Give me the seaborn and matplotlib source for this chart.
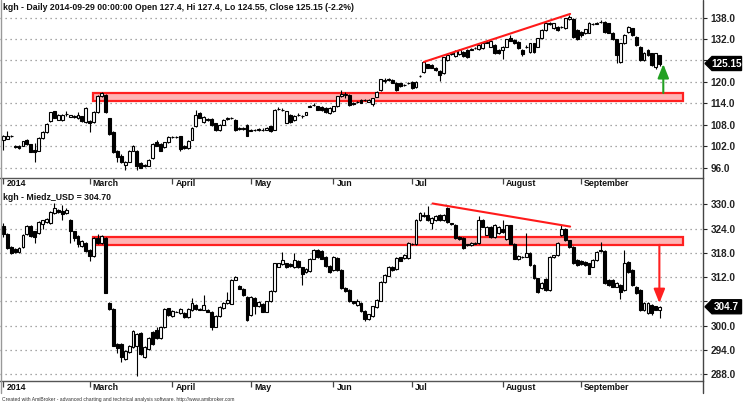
import numpy as np
import pandas as pd
import matplotlib
matplotlib.use("Agg")
import matplotlib.pyplot as plt
import matplotlib.transforms as mtrans
from matplotlib.patches import Rectangle, Polygon
from matplotlib.lines import Line2D
import seaborn as sns

sns.set_theme(style="white")
plt.rcParams["font.family"] = ["Liberation Sans", "DejaVu Sans"]

# ---------------- data ----------------
HOLIDAYS = ["2014-04-18", "2014-04-21", "2014-05-01", "2014-06-19", "2014-08-15"]
dates = pd.bdate_range("2014-01-30", "2014-09-29")
dates = dates[~dates.isin(pd.to_datetime(HOLIDAYS))]

MONTH_LABELS = {3: "March", 4: "April", 5: "May", 6: "Jun", 7: "Jul", 8: "August", 9: "September"}
YEAR_LABEL = "2014"

kgh_open = [103.8, 104.2, 104.8, 102.2, 102.0, 102.2, 103.8, 102.7, 101.0, 100.8,
            104.4, 106.1, 109.2, 111.8, 109.5, 109.4, 111.0, 110.3, 110.3, 109.8,
            110.4, 108.7, 109.2, 108.7, 111.5, 116.1, 116.4, 109.8, 106.1, 100.8,
            99.4, 96.8, 97.7, 100.8, 100.8, 97.3, 96.8, 96.6, 98.7, 103.1,
            102.7, 101.7, 103.1, 104.5, 104.6, 104.9, 102.0, 101.6, 103.9, 107.6,
            111.3, 108.8, 109.6, 109.7, 108.4, 106.5, 108.1, 109.6, 109.9, 109.5,
            106.9, 106.9, 108.1, 106.4, 106.6, 106.5, 106.6, 106.7, 107.6, 106.7,
            112.4, 112.2, 108.6, 110.9, 109.4, 110.8, 110.4, 110.9, 113.1, 113.6,
            113.2, 113.0, 112.7, 111.3, 111.8, 113.2, 116.0, 116.4, 116.4, 114.2,
            114.3, 115.0, 114.9, 114.5, 113.8, 115.9, 117.7, 120.4, 120.6, 120.5,
            119.8, 119.6, 119.1, 119.7, 120.1, 118.5, 121.6, 122.8, 124.9, 124.7,
            124.0, 123.1, 122.4, 126.1, 127.9, 127.2, 127.8, 128.5, 128.9, 129.0,
            129.5, 129.1, 129.4, 131.0, 129.9, 130.3, 128.9, 128.9, 129.9, 132.2,
            131.7, 131.1, 128.9, 129.8, 128.4, 130.8, 129.9, 132.2, 134.5, 136.3,
            135.0, 135.4, 135.3, 135.0, 137.5, 137.7, 134.5, 134.0, 133.6, 133.8,
            136.1, 136.3, 136.7, 136.8, 136.4, 133.8, 131.9, 125.6, 130.8, 134.0,
            135.0, 132.5, 129.8, 126.1, 128.9, 128.0, 124.3, 127.4]
kgh_high = [105.2, 106.2, 105.2, 102.5, 102.3, 103.6, 104.0, 102.8, 103.0, 104.6,
            106.3, 108.6, 111.7, 112.0, 111.0, 111.0, 111.8, 110.9, 110.8, 111.5,
            110.6, 113.0, 109.5, 111.8, 116.3, 117.3, 116.6, 110.0, 106.3, 101.0,
            99.8, 98.0, 101.0, 102.5, 101.0, 97.5, 97.0, 98.5, 102.9, 103.7,
            102.9, 103.3, 104.8, 104.9, 104.9, 105.0, 102.3, 103.7, 107.4, 112.3,
            111.5, 110.4, 109.8, 109.9, 108.6, 108.2, 109.7, 110.3, 110.3, 109.7,
            107.4, 107.3, 108.3, 106.8, 106.9, 107.1, 107.0, 107.4, 107.8, 112.5,
            113.0, 112.6, 112.0, 111.1, 110.7, 111.4, 110.8, 111.7, 113.7, 114.1,
            113.4, 113.2, 112.9, 112.9, 113.4, 116.2, 117.8, 117.2, 116.6, 114.4,
            114.8, 115.2, 115.3, 115.1, 115.6, 117.4, 120.9, 121.2, 121.0, 120.7,
            120.0, 119.8, 119.5, 120.1, 120.3, 120.3, 121.9, 125.8, 125.1, 124.9,
            124.2, 123.3, 127.1, 127.7, 128.4, 128.9, 129.1, 128.7, 129.1, 129.4,
            129.9, 130.5, 131.2, 131.4, 131.7, 130.5, 129.1, 130.1, 132.1, 133.1,
            131.9, 131.3, 129.1, 130.2, 131.0, 131.0, 132.4, 134.7, 136.8, 136.8,
            136.6, 135.6, 135.7, 138.0, 138.8, 137.9, 134.7, 134.2, 134.9, 136.8,
            136.5, 136.7, 137.3, 137.0, 136.6, 134.0, 132.1, 131.0, 133.3, 135.6,
            135.2, 132.7, 130.0, 128.3, 129.1, 128.2, 128.2, 127.4]
kgh_low = [101.0, 104.0, 104.5, 101.6, 101.2, 102.0, 102.4, 100.3, 97.7, 100.6,
           104.2, 105.8, 108.9, 109.8, 109.3, 109.2, 110.6, 110.1, 110.0, 109.6,
           108.7, 108.4, 106.1, 108.4, 111.2, 115.9, 111.2, 105.2, 100.2, 97.5,
           97.3, 95.5, 97.5, 100.6, 95.5, 95.9, 96.2, 96.4, 98.5, 102.0,
           100.6, 101.5, 102.9, 104.3, 104.3, 100.6, 101.2, 101.4, 103.7, 107.4,
           109.8, 108.6, 109.2, 107.7, 106.4, 106.3, 107.9, 109.4, 109.7, 106.3,
           106.7, 106.7, 104.8, 106.2, 106.4, 106.3, 106.4, 106.5, 106.0, 106.5,
           112.1, 112.0, 108.4, 108.5, 109.2, 110.6, 110.0, 110.7, 112.9, 113.4,
           112.1, 111.9, 111.3, 111.1, 111.6, 113.0, 115.8, 115.6, 113.4, 113.5,
           114.0, 114.0, 114.7, 114.3, 113.4, 115.7, 117.5, 119.8, 120.3, 119.6,
           117.5, 118.7, 118.9, 119.5, 118.0, 118.3, 121.5, 122.6, 123.8, 123.8,
           123.0, 120.4, 122.2, 125.9, 127.6, 127.0, 127.6, 127.1, 126.7, 128.8,
           129.3, 128.9, 129.2, 130.8, 129.7, 127.8, 127.8, 126.3, 129.7, 131.3,
           130.6, 129.2, 127.3, 129.6, 128.2, 128.2, 129.7, 132.0, 134.3, 136.0,
           134.8, 134.3, 135.1, 134.8, 137.3, 132.2, 131.7, 132.5, 133.4, 133.6,
           135.9, 136.1, 136.5, 133.8, 133.6, 131.7, 125.4, 125.4, 130.6, 133.8,
           132.8, 130.1, 125.9, 125.9, 127.3, 124.5, 123.6, 124.55]
kgh_close = [104.8, 104.8, 104.9, 101.9, 101.5, 103.4, 102.6, 100.5, 100.3, 104.4,
             106.1, 108.2, 111.5, 110.0, 110.8, 110.8, 111.1, 110.7, 110.4, 110.9,
             109.0, 112.6, 108.5, 111.5, 116.1, 116.8, 111.5, 105.4, 100.5, 98.9,
             97.5, 97.7, 100.8, 102.2, 96.4, 96.1, 96.4, 98.3, 102.7, 102.2,
             100.8, 103.1, 104.6, 104.7, 104.7, 101.2, 101.5, 103.5, 107.2, 110.9,
             110.0, 110.2, 109.4, 107.9, 106.7, 108.0, 109.5, 109.8, 110.0, 106.5,
             107.0, 107.0, 105.0, 106.5, 106.7, 106.9, 106.7, 107.2, 106.2, 112.3,
             112.5, 112.3, 111.8, 108.7, 110.5, 110.9, 110.5, 111.5, 113.2, 113.7,
             112.3, 112.1, 111.5, 112.7, 113.2, 116.0, 116.7, 116.5, 113.6, 113.8,
             114.4, 114.2, 115.0, 114.9, 115.4, 117.2, 120.7, 120.5, 120.7, 119.8,
             117.7, 118.9, 119.2, 119.8, 118.2, 120.1, 121.7, 125.6, 124.0, 124.0,
             123.2, 121.9, 126.9, 127.5, 128.0, 128.7, 128.9, 127.3, 126.9, 129.1,
             129.6, 130.3, 130.8, 131.1, 131.5, 128.0, 128.0, 129.9, 131.9, 131.5,
             130.8, 129.4, 127.8, 129.9, 130.8, 128.4, 132.2, 134.5, 136.6, 136.4,
             136.4, 134.5, 135.4, 137.8, 138.2, 132.5, 131.9, 133.0, 134.7, 136.6,
             136.2, 136.4, 136.8, 134.0, 133.8, 131.9, 127.5, 130.8, 133.1, 135.4,
             133.0, 130.3, 126.1, 128.1, 127.5, 124.7, 128.0, 125.15]

cu_open = [324.6, 322.7, 319.4, 318.9, 318.2, 319.4, 322.7, 324.6, 323.3, 322.9,
           325.2, 325.6, 325.4, 327.9, 328.7, 328.4, 327.9, 326.2, 323.3, 322.1,
           319.6, 320.4, 318.8, 317.2, 321.7, 320.4, 321.7, 305.7, 304.1, 295.5,
           295.5, 291.8, 293.5, 294.7, 295.1, 298.3, 292.2, 294.2, 298.4, 299.0,
           297.0, 299.6, 304.3, 302.4, 303.4, 303.1, 303.1, 302.1, 303.9, 305.1,
           304.0, 304.0, 304.0, 303.5, 299.8, 302.4, 304.4, 305.6, 305.5, 311.4,
           309.8, 309.2, 307.2, 302.7, 306.8, 304.9, 305.4, 303.5, 306.0, 308.6,
           314.6, 315.3, 315.4, 315.2, 314.4, 316.0, 314.4, 313.3, 313.6, 316.6,
           318.8, 318.5, 317.0, 314.7, 313.7, 316.7, 313.8, 309.3, 308.8, 306.0,
           305.2, 305.7, 303.6, 301.6, 302.4, 304.6, 306.2, 310.7, 312.4, 314.6,
           314.0, 316.9, 316.7, 316.7, 320.3, 320.1, 326.1, 327.4, 327.4, 325.5,
           326.0, 327.4, 326.0, 329.0, 325.3, 324.9, 321.9, 321.8, 319.9, 320.0,
           320.3, 320.4, 326.1, 322.5, 324.5, 322.0, 322.8, 324.0, 321.5, 324.8,
           320.3, 316.4, 317.0, 317.1, 318.0, 315.0, 311.7, 309.4, 311.5, 308.8,
           317.0, 317.4, 322.4, 324.0, 321.1, 319.5, 316.2, 316.0, 315.8, 315.4,
           314.6, 316.2, 318.6, 318.5, 311.3, 311.3, 309.7, 310.1, 308.8, 315.8,
           313.8, 309.7, 308.8, 303.9, 303.1, 305.2, 304.8, 304.0]
cu_high = [325.4, 322.9, 319.6, 319.1, 319.4, 322.7, 324.8, 324.8, 323.5, 325.8,
           326.2, 326.6, 328.3, 330.3, 328.9, 329.8, 329.2, 326.4, 323.5, 322.3,
           321.1, 320.6, 319.0, 321.9, 322.7, 322.3, 321.9, 305.9, 304.3, 295.7,
           295.7, 294.1, 295.3, 299.0, 298.1, 298.5, 294.9, 297.3, 298.6, 299.6,
           299.8, 304.3, 304.5, 303.9, 303.7, 304.3, 303.3, 304.3, 306.8, 305.3,
           304.3, 307.5, 304.2, 303.7, 302.6, 304.9, 305.8, 308.4, 311.6, 312.3,
           310.0, 309.4, 307.4, 307.4, 307.0, 306.1, 305.6, 306.2, 308.8, 315.6,
           315.6, 318.2, 315.6, 315.4, 318.0, 316.2, 314.6, 314.2, 316.8, 318.9,
           319.0, 318.7, 317.2, 314.9, 317.2, 316.9, 314.0, 309.5, 309.0, 306.2,
           306.6, 305.9, 303.8, 303.0, 305.0, 306.5, 311.1, 312.8, 314.8, 314.8,
           316.9, 317.1, 317.7, 320.6, 320.5, 326.3, 328.0, 328.0, 329.7, 326.8,
           327.4, 327.6, 327.6, 329.4, 325.5, 325.1, 322.1, 322.0, 320.3, 320.6,
           320.7, 327.2, 326.3, 324.7, 324.7, 325.1, 324.6, 326.0, 325.0, 325.0,
           320.5, 317.4, 317.3, 323.0, 318.2, 315.2, 311.9, 310.8, 311.7, 317.2,
           317.6, 320.7, 324.8, 324.2, 321.3, 319.7, 316.4, 316.2, 316.0, 315.6,
           316.4, 318.5, 320.6, 318.7, 311.5, 311.5, 310.7, 310.3, 318.8, 316.0,
           314.0, 309.9, 309.0, 305.8, 305.8, 305.4, 305.0, 304.9]
cu_low = [321.9, 319.0, 317.8, 318.0, 317.9, 319.2, 322.5, 321.9, 320.5, 322.7,
          323.9, 325.4, 325.2, 327.7, 327.9, 326.0, 327.7, 320.4, 320.9, 319.5,
          319.4, 318.2, 316.0, 317.0, 320.2, 320.2, 308.0, 303.9, 294.9, 293.4,
          291.0, 291.6, 293.3, 294.5, 287.7, 292.8, 292.0, 294.0, 295.3, 296.8,
          296.8, 299.4, 302.5, 302.2, 303.3, 302.9, 301.9, 301.9, 303.7, 303.9,
          303.9, 303.8, 303.3, 299.0, 299.6, 302.2, 304.2, 305.4, 305.3, 311.2,
          309.0, 307.4, 301.2, 302.5, 303.0, 304.7, 303.3, 303.3, 305.8, 308.4,
          314.4, 315.1, 314.2, 314.6, 314.2, 314.2, 310.0, 313.1, 313.4, 316.4,
          316.7, 316.4, 314.5, 313.1, 313.5, 313.6, 309.1, 308.3, 305.8, 305.4,
          305.0, 303.4, 301.2, 301.4, 302.2, 304.4, 306.0, 310.5, 312.2, 313.6,
          313.8, 315.9, 316.5, 316.5, 319.9, 319.9, 325.9, 326.8, 325.8, 324.0,
          325.8, 325.8, 325.8, 325.5, 324.9, 321.4, 321.2, 318.9, 319.7, 319.8,
          320.1, 320.2, 324.3, 322.3, 321.8, 321.8, 322.6, 323.0, 321.3, 320.1,
          316.4, 316.2, 316.8, 316.9, 314.8, 311.5, 308.2, 309.2, 308.6, 308.6,
          316.8, 317.2, 322.2, 320.9, 319.3, 315.2, 314.8, 315.0, 314.8, 312.7,
          314.4, 316.0, 318.2, 310.3, 309.9, 309.5, 309.5, 306.6, 308.6, 313.1,
          309.9, 307.8, 303.7, 303.7, 302.9, 302.7, 303.8, 302.0]
cu_close = [322.7, 319.2, 318.0, 318.2, 319.2, 322.5, 324.6, 322.1, 321.9, 325.6,
            326.0, 326.4, 328.1, 329.1, 328.1, 327.6, 328.7, 323.3, 321.7, 320.1,
            320.9, 318.4, 317.2, 321.7, 320.4, 322.1, 308.2, 304.1, 295.1, 294.6,
            292.2, 293.9, 295.1, 298.8, 297.9, 293.0, 294.7, 297.1, 295.5, 297.0,
            299.6, 304.1, 302.7, 303.7, 303.5, 304.1, 302.1, 304.1, 305.7, 304.1,
            304.1, 305.1, 303.5, 299.8, 302.4, 304.7, 305.6, 306.4, 311.4, 312.1,
            309.2, 307.6, 301.4, 307.2, 304.9, 305.9, 303.5, 306.0, 308.6, 315.4,
            315.4, 316.2, 314.4, 314.8, 316.2, 314.4, 312.9, 314.0, 316.6, 318.7,
            316.9, 316.6, 314.7, 313.3, 317.0, 313.8, 309.3, 308.5, 306.0, 305.6,
            306.0, 303.6, 301.6, 302.8, 304.8, 306.3, 310.9, 312.6, 314.6, 313.8,
            316.7, 316.1, 317.5, 320.4, 320.1, 326.1, 327.8, 327.0, 326.0, 326.6,
            327.2, 326.0, 327.4, 325.7, 325.1, 321.6, 321.4, 319.1, 320.1, 320.4,
            320.5, 326.1, 324.5, 324.5, 322.0, 324.9, 324.4, 323.2, 324.8, 320.3,
            316.6, 317.2, 317.1, 318.0, 315.0, 311.7, 308.4, 310.6, 308.8, 317.0,
            317.4, 320.5, 324.0, 321.1, 319.5, 315.4, 315.0, 315.2, 315.0, 312.9,
            316.2, 318.3, 318.4, 310.5, 310.1, 309.7, 310.5, 308.4, 315.4, 313.3,
            310.1, 308.0, 303.9, 305.6, 305.6, 303.1, 304.0, 304.7]

kgh_ticks = [96.0, 102.0, 108.0, 114.0, 120.0, 126.0, 132.0, 138.0]
cu_ticks = [288.0, 294.0, 300.0, 306.0, 312.0, 318.0, 324.0, 330.0]
# tick labels hidden behind the last-price boxes in the reference
kgh_hidden_ticks = [126.0]
cu_hidden_ticks = [306.0]

KGH_TITLE = "kgh - Daily 2014-09-29 00:00:00 Open 127.4, Hi 127.4, Lo 124.55, Close 125.15 (-2.2%)"
CU_TITLE = "kgh - Miedz_USD = 304.70"
CREDIT = "Created with AmiBroker - advanced charting and technical analysis software. http://www.amibroker.com"
KGH_LAST_LABEL = "125.15"
CU_LAST_LABEL = "304.7"

# annotations drawn by the analyst (in bar-index / price units)
ZONE_X = (22.75, 173.0)
KGH_ZONE = (114.8, 116.8)
CU_ZONE = (319.95, 322.0)
KGH_TREND_X = [107.0, 144.2]
KGH_TREND_Y = [125.6, 139.0]
CU_TREND_X = [109.2, 144.2]
CU_TREND_Y = [330.2, 324.5]
KGH_ARROW = (167.9, 116.9, 125.0)
CU_ARROW = (166.9, 320.0, 305.6)

# ---------------- figure ----------------
W, H = 744, 403
fig = plt.figure(figsize=(W / 100, H / 100), dpi=100)
fig.patch.set_facecolor("white")

AX_RIGHT = 703
ax1 = fig.add_axes([0, 1 - 178 / H, AX_RIGHT / W, 178 / H])
ax2 = fig.add_axes([0, 1 - 381 / H, AX_RIGHT / W, (381 - 190) / H])

n = len(kgh_close)
xs = np.arange(n)


def draw_candles(ax, o, hi, lo, c):
    o, hi, lo, c = map(np.asarray, (o, hi, lo, c))
    up = c >= o
    ax.vlines(xs, lo, hi, color="black", lw=0.8, zorder=3)
    bottom = np.minimum(o, c)
    height = np.abs(c - o)
    ax.bar(xs[up], height[up], bottom=bottom[up], width=0.74, color="white",
           edgecolor="black", linewidth=0.8, zorder=4)
    ax.bar(xs[~up], height[~up], bottom=bottom[~up], width=0.74, color="black",
           edgecolor="black", linewidth=0.8, zorder=4)


def style_axis(ax, ticks, hidden, ylim):
    ax.set_xlim(-0.84, 178.0)
    ax.set_ylim(*ylim)
    ax.set_facecolor("white")
    ax.yaxis.tick_right()
    ax.set_yticks(ticks)
    ax.set_yticklabels(["" if t in hidden else f"{t:.1f}" for t in ticks])
    ax.tick_params(axis="y", which="both", direction="out", length=3, width=0.8,
                   pad=2.5, labelsize=7.2, colors="#222222", right=True, left=False)
    for lab in ax.get_yticklabels():
        lab.set_fontweight("bold")
    ax.yaxis.grid(True, linestyle=(0, (1, 3)), color="#8a8a8a", lw=0.9)
    ax.xaxis.grid(False)
    for s in ["top", "left", "right"]:
        ax.spines[s].set_visible(False)
    ax.spines["bottom"].set_color("#555555")
    ax.spines["bottom"].set_linewidth(1.0)
    # month ticks and labels
    month_pos = [0]
    month_lab = [YEAR_LABEL]
    for i in range(1, n):
        if dates[i].month != dates[i - 1].month and dates[i].month in MONTH_LABELS:
            month_pos.append(i)
            month_lab.append(MONTH_LABELS[dates[i].month])
    ax.set_xticks(month_pos)
    ax.set_xticklabels([])
    ax.tick_params(axis="x", direction="out", length=4.5, width=0.9, colors="#444444", bottom=True)
    trans = ax.get_xaxis_transform() + mtrans.ScaledTranslation(3 / 100, -1.5 / 100, fig.dpi_scale_trans)
    for p, lab in zip(month_pos, month_lab):
        ax.text(p, 0, lab, transform=trans, ha="left", va="top", fontsize=6.3,
                fontweight="bold", color="#111111", clip_on=False)


def price_box(ax, value, text):
    base = mtrans.blended_transform_factory(ax.transAxes, ax.transData)
    tr = fig.dpi_scale_trans + mtrans.ScaledTranslation(1.0, value, base)
    pts = [(0.02, 0.0), (0.09, 0.07), (0.385, 0.07), (0.385, -0.07), (0.09, -0.07)]
    ax.add_patch(Polygon(pts, closed=True, transform=tr, facecolor="black",
                         edgecolor="black", clip_on=False, zorder=20))
    ax.text(0.235, 0.0, text, transform=tr, ha="center", va="center", color="white",
            fontsize=7.2, fontweight="bold", zorder=21, clip_on=False)


def zone(ax, yr):
    ax.add_patch(Rectangle((ZONE_X[0], yr[0]), ZONE_X[1] - ZONE_X[0], yr[1] - yr[0],
                           facecolor="#ffb4b4", edgecolor="#ff2020", lw=1.6, zorder=2))


# top panel
style_axis(ax1, kgh_ticks, kgh_hidden_ticks, (93.17, 142.89))
zone(ax1, KGH_ZONE)
draw_candles(ax1, kgh_open, kgh_high, kgh_low, kgh_close)
sns.lineplot(x=KGH_TREND_X, y=KGH_TREND_Y, ax=ax1, color="#ff1a1a", lw=1.5, zorder=6)
ax1.annotate("", xy=(KGH_ARROW[0], KGH_ARROW[2]), xytext=(KGH_ARROW[0], KGH_ARROW[1]),
             arrowprops=dict(arrowstyle="-|>,head_length=0.7,head_width=0.28", color="#22a022",
                             lw=1.5, shrinkA=0, shrinkB=0, mutation_scale=12),
             zorder=7, annotation_clip=False)
price_box(ax1, kgh_close[-1], KGH_LAST_LABEL)

# bottom panel
style_axis(ax2, cu_ticks, cu_hidden_ticks, (286.37, 333.53))
zone(ax2, CU_ZONE)
draw_candles(ax2, cu_open, cu_high, cu_low, cu_close)
sns.lineplot(x=CU_TREND_X, y=CU_TREND_Y, ax=ax2, color="#ff1a1a", lw=1.5, zorder=6)
ax2.annotate("", xy=(CU_ARROW[0], CU_ARROW[2]), xytext=(CU_ARROW[0], CU_ARROW[1]),
             arrowprops=dict(arrowstyle="-|>,head_length=0.7,head_width=0.28", color="#ff2020",
                             lw=1.5, shrinkA=0, shrinkB=0, mutation_scale=12),
             zorder=7, annotation_clip=False)
price_box(ax2, cu_close[-1], CU_LAST_LABEL)

for ax in (ax1, ax2):
    leg = ax.get_legend()
    if leg is not None:
        leg.remove()
    ax.set_xlabel("")
    ax.set_ylabel("")

# frame lines (left border and right scale line)
fig.add_artist(Line2D([AX_RIGHT / W, AX_RIGHT / W], [1 - 393 / H, 1], color="#444444", lw=1.0))
fig.add_artist(Line2D([1 / W, 1 / W], [1 - 393 / H, 1], color="#999999", lw=1.0))

# titles
fig.text(3 / W, 1 - 8 / H, KGH_TITLE, ha="left", va="center", fontsize=6.3, fontweight="bold", color="#111111")
fig.text(3 / W, 1 - 197 / H, CU_TITLE, ha="left", va="center", fontsize=6.3, fontweight="bold", color="#111111")
fig.text(2 / W, 1 - 399 / H, CREDIT, ha="left", va="center", fontsize=3.6, color="#333333")

fig.savefig("out.png", dpi=100, facecolor="white")
